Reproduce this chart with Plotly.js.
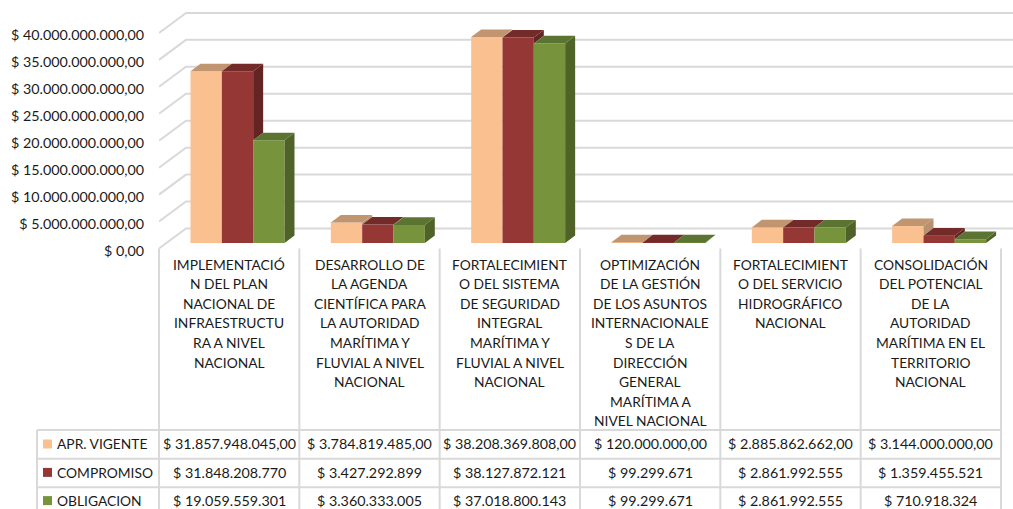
<!DOCTYPE html>
<html>
<head>
<meta charset="utf-8">
<script src="https://cdn.plot.ly/plotly-3.0.1.min.js"></script>
<style>html,body{margin:0;padding:0;background:#fff;overflow:hidden}</style>
</head>
<body>
<div id="chart" style="width:1013px;height:509px"></div>
<script>
const categories = [
  "IMPLEMENTACIÓ<br>N DEL PLAN<br>NACIONAL DE<br>INFRAESTRUCTU<br>RA A NIVEL<br>NACIONAL",
  "DESARROLLO DE<br>LA AGENDA<br>CIENTÍFICA PARA<br>LA AUTORIDAD<br>MARÍTIMA Y<br>FLUVIAL A NIVEL<br>NACIONAL",
  "FORTALECIMIENT<br>O DEL SISTEMA<br>DE SEGURIDAD<br>INTEGRAL<br>MARÍTIMA Y<br>FLUVIAL A NIVEL<br>NACIONAL",
  "OPTIMIZACIÓN<br>DE LA GESTIÓN<br>DE LOS ASUNTOS<br>INTERNACIONALE<br>S DE LA<br>DIRECCIÓN<br>GENERAL<br>MARÍTIMA A<br>NIVEL NACIONAL",
  "FORTALECIMIENT<br>O DEL SERVICIO<br>HIDROGRÁFICO<br>NACIONAL",
  "CONSOLIDACIÓN<br>DEL POTENCIAL<br>DE LA<br>AUTORIDAD<br>MARÍTIMA EN EL<br>TERRITORIO<br>NACIONAL"
];
const seriesNames = ["APR. VIGENTE", "COMPROMISO", "OBLIGACION"];
const aprVigente = [31857948045, 3784819485, 38208369808, 120000000, 2885862662, 3144000000];
const compromiso = [31848208770, 3427292899, 38127872121, 99299671, 2861992555, 1359455521];
const obligacion = [19059559301, 3360333005, 37018800143, 99299671, 2861992555, 710918324];
const tickValues = [0, 5e9, 10e9, 15e9, 20e9, 25e9, 30e9, 35e9, 40e9];
const frontColors = ["#FAC090", "#953735", "#77933C"];
const topColors = ["#C0956F", "#732B29", "#5C7431"];
const sideColors = ["#B8926F", "#632523", "#4F6228"];

const W = 1013, H = 509, LEFT = 159, COL = 140.33;
const SCALE = 5.39 / 1e9;          // pixels per unit of value
const ZERO_PX = 248.5;             // y pixel of value 0 on the front of the wall
const pxV = p => p / SCALE;        // pixel height -> value units
const pxX = p => p / COL;          // pixel width -> category units
const paperX = p => (p - LEFT) / (W - LEFT);
const paperY = p => 1 - p / H;
const xOfPx = p => (p - LEFT) / COL - 0.5;

const allSeries = [aprVigente, compromiso, obligacion];
const barW = pxX(31.33), barStart = pxX(31.5) - 0.5;
const depthX = pxX(10), depthV = pxV(7.6);
const baseV = pxV(5.5);
const wallX = pxX(27), wallV = pxV(20);

const data = [];
const catIdx = categories.map((_, i) => i);
// front faces
allSeries.forEach((vals, s) => {
  data.push({
    type: "bar", name: seriesNames[s], x: catIdx, y: vals, base: baseV,
    offset: barStart + s * barW, width: barW,
    marker: {color: frontColors[s], line: {width: 0}}, hoverinfo: "skip", showlegend: false
  });
});
// side and top faces
allSeries.forEach((vals, s) => {
  vals.forEach((v, i) => {
    const xl = i + barStart + s * barW, xr = xl + barW;
    const top = v + baseV;
    const next = s < 2 ? allSeries[s + 1][i] + baseV : baseV;
    if (next < top) {
      data.push({type: "scatter", mode: "lines", fill: "toself", fillcolor: sideColors[s],
        line: {width: 0, color: sideColors[s]}, hoverinfo: "skip", showlegend: false,
        x: [xr, xr + depthX, xr + depthX, xr, xr],
        y: [top, top + depthV, next + depthV, next, top]});
    }
    data.push({type: "scatter", mode: "lines", fill: "toself", fillcolor: topColors[s],
      line: {width: 0, color: topColors[s]}, hoverinfo: "skip", showlegend: false,
      x: [xl, xl + depthX, xr + depthX, xr, xl],
      y: [top, top + depthV, top + depthV, top, top]});
  });
});

const GRID = "#D9D9D9";
const xMin = -0.5, xMax = xOfPx(W);
const shapes = [];
// wall gridlines
tickValues.forEach(v => {
  shapes.push({type: "path", layer: "below", xref: "x", yref: "y",
    path: `M${xMin},${v} L${xMin + wallX},${v + wallV} L${xMax},${v + wallV}`,
    line: {color: GRID, width: 2}});
});
// data table lines
const rowLines = [430, 458.7, 487.3];
rowLines.forEach(p => shapes.push({type: "line", layer: "below", xref: "paper", yref: "paper",
  x0: paperX(37), x1: paperX(1001), y0: paperY(p), y1: paperY(p), line: {color: GRID, width: 2}}));
shapes.push({type: "line", layer: "below", xref: "paper", yref: "paper",
  x0: paperX(37), x1: paperX(37), y0: paperY(430), y1: 0, line: {color: GRID, width: 2}});
for (let i = 0; i <= 6; i++) {
  const px = LEFT + i * COL;
  shapes.push({type: "line", layer: "below", xref: "paper", yref: "paper",
    x0: paperX(px), x1: paperX(px), y0: paperY(248.5), y1: 0, line: {color: GRID, width: 2}});
}
// legend keys in the table
const keyCentres = [444, 472.4, 500.6];
const rowCentres = [443.6, 472.2, 500.8];
keyCentres.forEach((p, s) => shapes.push({type: "rect", xref: "paper", yref: "paper",
  x0: paperX(43), x1: paperX(52), y0: paperY(p - 4.5), y1: paperY(p + 4.5),
  fillcolor: frontColors[s], line: {width: 0}}));

const FAMILY = "Lato, Carlito, Calibri, sans-serif";
const CAPS = {family: FAMILY, size: 13.8, color: "#1a1a1a"};
const NUMS = {family: FAMILY, size: 14.3, color: "#1a1a1a"};
const fmt = (v, dec) => "$ " + String(v).replace(/\B(?=(\d{3})+$)/g, ".") + dec;
const annotations = [];
categories.forEach((c, i) => c.split("<br>").forEach((line, n) => annotations.push({
  text: line, x: i, xref: "x", y: paperY(264 + n * 19.6), yref: "paper", xanchor: "center", yanchor: "middle",
  showarrow: false, font: CAPS})));
allSeries.forEach((vals, s) => {
  annotations.push({text: seriesNames[s], x: paperX(55), xref: "paper", y: paperY(rowCentres[s]), yref: "paper",
    xanchor: "left", yanchor: "middle", showarrow: false, font: CAPS});
  vals.forEach((v, i) => annotations.push({text: fmt(v, s === 0 ? ",00" : ""), x: i, xref: "x",
    y: paperY(rowCentres[s]), yref: "paper", xanchor: "center", yanchor: "middle", showarrow: false, font: NUMS}));
});

const layout = {
  width: W, height: H, margin: {l: LEFT, r: 0, t: 0, b: 0, pad: 0},
  paper_bgcolor: "#fff", plot_bgcolor: "rgba(0,0,0,0)",
  separators: ",.", barmode: "overlay", showlegend: false, hovermode: false,
  font: NUMS, shapes, annotations,
  xaxis: {type: "linear", range: [xMin, xMax], visible: false, fixedrange: true},
  yaxis: {range: [(ZERO_PX - H) / SCALE, ZERO_PX / SCALE], tickmode: "array", tickvals: tickValues,
    ticktext: tickValues.map(v => fmt(v, ",00")), showgrid: false, zeroline: false, showline: false,
    ticks: "outside", ticklen: 11, tickcolor: "rgba(0,0,0,0)", tickfont: NUMS, ticklabelshift: 2, fixedrange: true}
};
Plotly.newPlot("chart", data, layout, {displayModeBar: false, responsive: false});
</script>
</body>
</html>
